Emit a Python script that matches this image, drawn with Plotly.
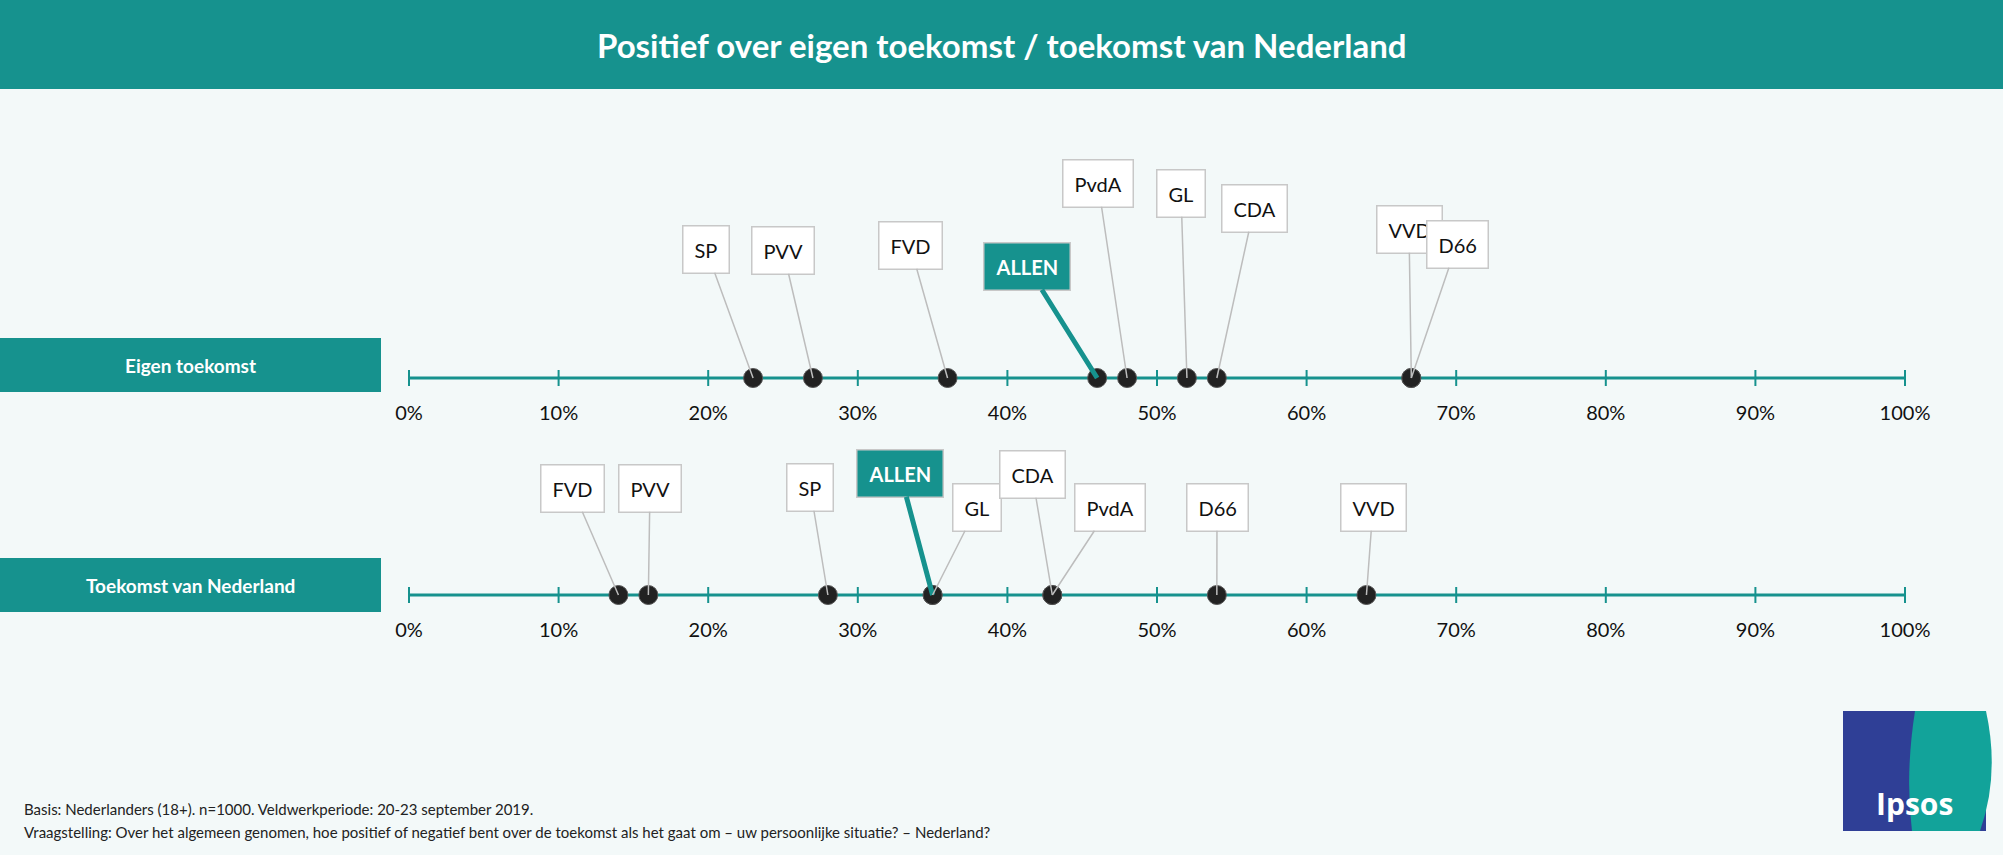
import plotly.graph_objects as go

# data
ticks = [0, 10, 20, 30, 40, 50, 60, 70, 80, 90, 100]
tick_labels = [f"{t}%" for t in ticks]

eigen_parties = ["SP", "PVV", "FVD", "ALLEN", "PvdA", "GL", "CDA", "VVD", "D66"]
eigen_values = [23, 27, 36, 46, 48, 52, 54, 67, 67]
nl_parties = ["FVD", "PVV", "SP", "ALLEN", "GL", "CDA", "PvdA", "D66", "VVD"]
nl_values = [14, 16, 28, 35, 35, 43, 43, 54, 64]

# callout label positions (pixels)
eigen_lbl_px = [(706, 249), (783, 250), (910, 245), (1027, 266), (1098, 183),
                (1181, 193), (1254, 208), (1409, 229), (1457, 244)]
nl_lbl_px = [(572, 488), (650, 488), (810, 487), (900, 473), (977, 507),
             (1032, 474), (1110, 507), (1217, 507), (1373, 507)]

W, H = 2003, 855
X0, X100 = 409, 1905
PPU = (X100 - X0) / 100.0
TEAL = "#16928e"
BG = "#f3f9f9"

def px2x(p):
    return (p - X0) / PPU

fig = go.Figure()
annos = []

def draw_row(y, parties, values, lbls, row_title, box_top, box_bot):
    # axis line + ticks
    fig.add_trace(go.Scatter(x=[0, 100], y=[y, y], mode="lines",
                             line=dict(color=TEAL, width=3), hoverinfo="skip"))
    tx, ty = [], []
    for t in ticks:
        tx += [t, t, None]
        ty += [y - 8, y + 8, None]
    fig.add_trace(go.Scatter(x=tx, y=ty, mode="lines",
                             line=dict(color=TEAL, width=2), hoverinfo="skip"))
    fig.add_trace(go.Scatter(x=ticks, y=[y + 37] * len(ticks), mode="text",
                             text=tick_labels, textfont=dict(size=20, color="#111", family="Lato"),
                             hoverinfo="skip"))
    fig.add_trace(go.Scatter(x=values, y=[y] * len(values), mode="markers",
                             marker=dict(size=19, color="#222", line=dict(color="#555", width=1)),
                             text=parties, hoverinfo="text"))
    for p, v, (lx, ly) in zip(parties, values, lbls):
        allen = p == "ALLEN"
        annos.append(dict(
            x=v, y=y, xref="x", yref="y", ax=px2x(lx), ay=ly, axref="x", ayref="y",
            text=f"<b>{p}</b>" if allen else p, showarrow=True, arrowhead=0,
            arrowwidth=5 if allen else 1.5, arrowcolor=TEAL if allen else "#bdbdbd",
            bgcolor=TEAL if allen else "white", bordercolor="#c8c8c8", borderwidth=1.5,
            borderpad=11, font=dict(size=20, color="white" if allen else "#111", family="Lato")))
    fig.add_shape(type="rect", xref="paper", yref="y", x0=0, x1=381 / W, y0=box_top, y1=box_bot,
                  fillcolor=TEAL, line_width=0, layer="below")
    annos.append(dict(x=190 / W, xref="paper", y=(box_top + box_bot) / 2, yref="y",
                      xanchor="center", text=f"<b>{row_title}</b>", showarrow=False,
                      font=dict(size=19, color="white", family="Lato")))

draw_row(378, eigen_parties, eigen_values, eigen_lbl_px, "Eigen toekomst", 338, 392)
draw_row(595, nl_parties, nl_values, nl_lbl_px, "Toekomst van Nederland", 558, 612)

# title bar
fig.add_shape(type="rect", xref="paper", yref="y", x0=0, x1=1, y0=0, y1=89,
              fillcolor=TEAL, line_width=0, layer="below")
annos.append(dict(x=0.5, xref="paper", y=45, yref="y", xanchor="center", showarrow=False,
                  text="<b>Positief over eigen toekomst / toekomst van Nederland</b>",
                  font=dict(size=33, color="white", family="Lato")))

# footnotes
annos.append(dict(x=22 / W, xref="paper", y=809, yref="y", xanchor="left", showarrow=False,
                  text="Basis: Nederlanders (18+). n=1000. Veldwerkperiode: 20-23 september 2019.",
                  font=dict(size=15, color="#222", family="Lato")))
annos.append(dict(x=22 / W, xref="paper", y=832, yref="y", xanchor="left", showarrow=False,
                  text="Vraagstelling: Over het algemeen genomen, hoe positief of negatief bent over de toekomst als het gaat om – uw persoonlijke situatie? – Nederland?",
                  font=dict(size=15, color="#222", family="Lato")))

# logo
fig.add_shape(type="rect", xref="paper", yref="y", x0=1843 / W, x1=1986 / W, y0=711, y1=831,
              fillcolor="#2f3f96", line_width=0)
fig.add_shape(type="path", xref="paper", yref="y",
              path=f"M {1915 / W} 711 L {1986 / W} 711 Q {2000 / W} 775 {1980 / W} 831 L {1912 / W} 831 Q {1905 / W} 775 {1915 / W} 711 Z",
              fillcolor="#12a39a", line_width=0)
annos.append(dict(x=1914 / W, xref="paper", y=803, yref="y", xanchor="center", showarrow=False,
                  text="<b>Ipsos</b>", font=dict(size=30, color="white", family="Open Sans")))

fig.update_layout(
    width=W, height=H, margin=dict(l=0, r=0, t=0, b=0),
    paper_bgcolor=BG, plot_bgcolor=BG, showlegend=False,
    xaxis=dict(range=[px2x(0), px2x(W)], visible=False, fixedrange=True),
    yaxis=dict(range=[H, 0], visible=False, fixedrange=True),
    annotations=annos)
fig.write_html("out.html", config={"displayModeBar": False},
               post_script="document.body.style.margin='0';")
